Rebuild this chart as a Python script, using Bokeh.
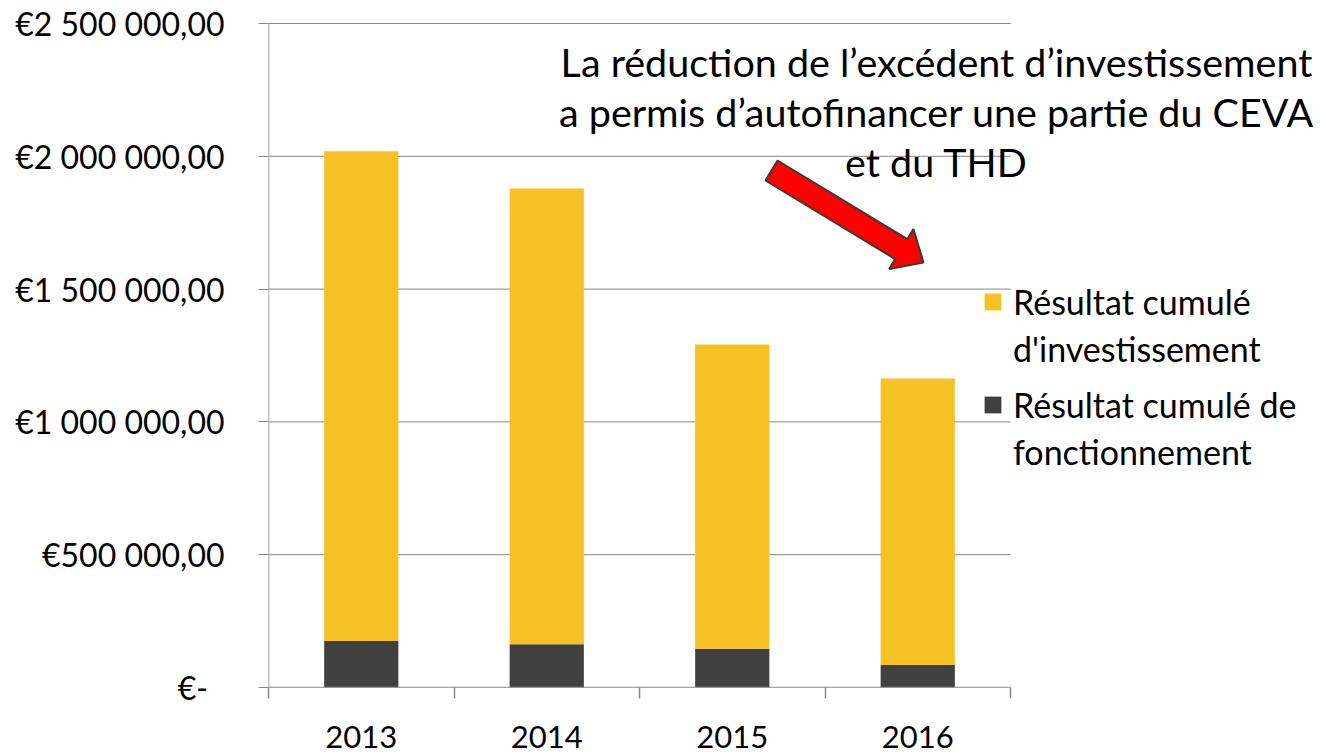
from bokeh.plotting import figure
from bokeh.models import (ColumnDataSource, Range1d, FixedTicker, Legend, LegendItem, Label)
from bokeh.embed import file_html
from bokeh.resources import INLINE

# ---------------- data ----------------
years = ["2013", "2014", "2015", "2016"]
fonctionnement = [175000, 163000, 146000, 85000]
investissement = [1844000, 1716000, 1145000, 1078000]
y_ticks = [0, 500000, 1000000, 1500000, 2000000, 2500000]
y_tick_labels = ["€-\u00a0\u00a0", "€500 000,00", "€1 000 000,00", "€1 500 000,00",
                 "€2 000 000,00", "€2 500 000,00"]
# legend labels, split over two lines each
invest_label = ["Résultat cumulé", "d'investissement"]
fonct_label = ["Résultat cumulé de", "fonctionnement"]
annotation_lines = ["La réduction de l’excédent d’investissement",
                    "a permis d’autofinancer une partie du CEVA",
                    "et du THD"]

YELLOW = "#F6C123"
DARK = "#404040"
GRID = "#878787"
FONT = "Lato"

n = len(years)
centers = [i + 0.5 for i in range(n)]
bounds = list(range(n + 1))
ymax = y_ticks[-1]

W, H = 1320, 754
# plotting area (value axes) in pixels
AL, AR, AT, AB = 268, 1010, 23, 687
FRAME_T = 8


def px_x(px):
    return (px - AL) / (AR - AL) * n


def px_y(py):
    return (AB - py) / (AB - AT) * ymax


src = ColumnDataSource(dict(x=centers, fonct=fonctionnement, invest=investissement))

p = figure(width=W, height=H, output_backend="svg", toolbar_location=None,
           x_range=Range1d(0, px_x(W)), y_range=Range1d(0, px_y(FRAME_T)),
           min_border_left=AL, min_border_right=0,
           min_border_top=FRAME_T, min_border_bottom=H - AB)
p.outline_line_color = None
p.background_fill_color = "white"
p.border_fill_color = "white"
p.grid.visible = False

# horizontal gridlines limited to the category span
p.segment(x0=[0] * len(y_ticks), x1=[n] * len(y_ticks), y0=y_ticks, y1=y_ticks,
          line_color=GRID, line_width=1)

r = p.vbar_stack(["fonct", "invest"], x="x", width=0.4, color=[DARK, YELLOW],
                 line_color=None, source=src)

# axis lines
p.segment(x0=[0, 0], x1=[n, 0], y0=[0, 0], y1=[0, ymax], line_color=GRID, line_width=1.5)

# y axis
ya = p.yaxis[0]
ya.ticker = FixedTicker(ticks=y_ticks)
ya.major_label_overrides = {t: l for t, l in zip(y_ticks, y_tick_labels)}
ya.axis_line_color = None
ya.major_tick_line_color = GRID
ya.major_tick_out = 10
ya.major_tick_in = 0
ya.minor_tick_line_color = None
ya.major_label_standoff = 34
ya.major_label_text_font = FONT
ya.major_label_text_font_size = "32px"
ya.major_label_text_color = "black"

# x axis
xa = p.xaxis[0]
xa.ticker = FixedTicker(ticks=centers, minor_ticks=bounds)
xa.major_label_overrides = {c: y for c, y in zip(centers, years)}
xa.axis_line_color = None
xa.major_tick_out = 0
xa.major_tick_in = 0
xa.major_tick_line_color = None
xa.minor_tick_line_color = GRID
xa.minor_tick_line_width = 1.5
xa.minor_tick_out = 11
xa.minor_tick_in = 0
xa.major_label_standoff = 27
xa.major_label_text_font = FONT
xa.major_label_text_font_size = "31px"
xa.major_label_text_color = "black"

# annotation text
baselines = [61, 111, 161]
for line, b in zip(annotation_lines, baselines):
    p.add_layout(Label(x=px_x(936), y=px_y(b), text=line, text_align="center",
                       text_baseline="alphabetic", text_font=FONT,
                       text_font_size="39.5px", text_color="black"))

# block arrow (decoration), built in pixel space
tail = (771.0, 170.0)
tip = (923.0, 262.0)
dx, dy = tip[0] - tail[0], tip[1] - tail[1]
L = (dx * dx + dy * dy) ** 0.5
ux, uy = dx / L, dy / L
nx, ny = -uy, ux
h, Hh, hl = 11.7, 23.5, 26.0
bx, by = tip[0] - ux * hl, tip[1] - uy * hl
pts = [
    (tail[0] - nx * h, tail[1] - ny * h),
    (bx - nx * h, by - ny * h),
    (bx - nx * Hh, by - ny * Hh),
    tip,
    (bx + nx * Hh, by + ny * Hh),
    (bx + nx * h, by + ny * h),
    (tail[0] + nx * h, tail[1] + ny * h),
]
p.patch([px_x(a) for a, _ in pts], [px_y(b) for _, b in pts],
        fill_color="#FF0000", line_color="#3a3a3a", line_width=2)

# invisible renderer used for the second line of each legend entry
blank = p.vbar(x=[], top=[], width=0.4, fill_alpha=0, line_alpha=0)


def make_legend(lines, rend, bottom_py):
    lg = Legend(items=[LegendItem(label=lines[0], renderers=[rend]),
                       LegendItem(label=lines[1], renderers=[blank])],
                location=(982 - AL, AB - bottom_py))
    lg.background_fill_alpha = 0
    lg.border_line_color = None
    lg.padding = 0
    lg.margin = 0
    lg.spacing = 6
    lg.glyph_width = 21
    lg.glyph_height = 21
    lg.label_height = 21
    lg.label_standoff = 10
    lg.label_text_font = FONT
    lg.label_text_font_size = "34px"
    lg.label_text_line_height = 1.0
    lg.label_text_color = "black"
    p.add_layout(lg)


make_legend(invest_label, r[1], 369)
make_legend(fonct_label, r[0], 472)

open("out.html", "w").write(file_html(p, INLINE))
